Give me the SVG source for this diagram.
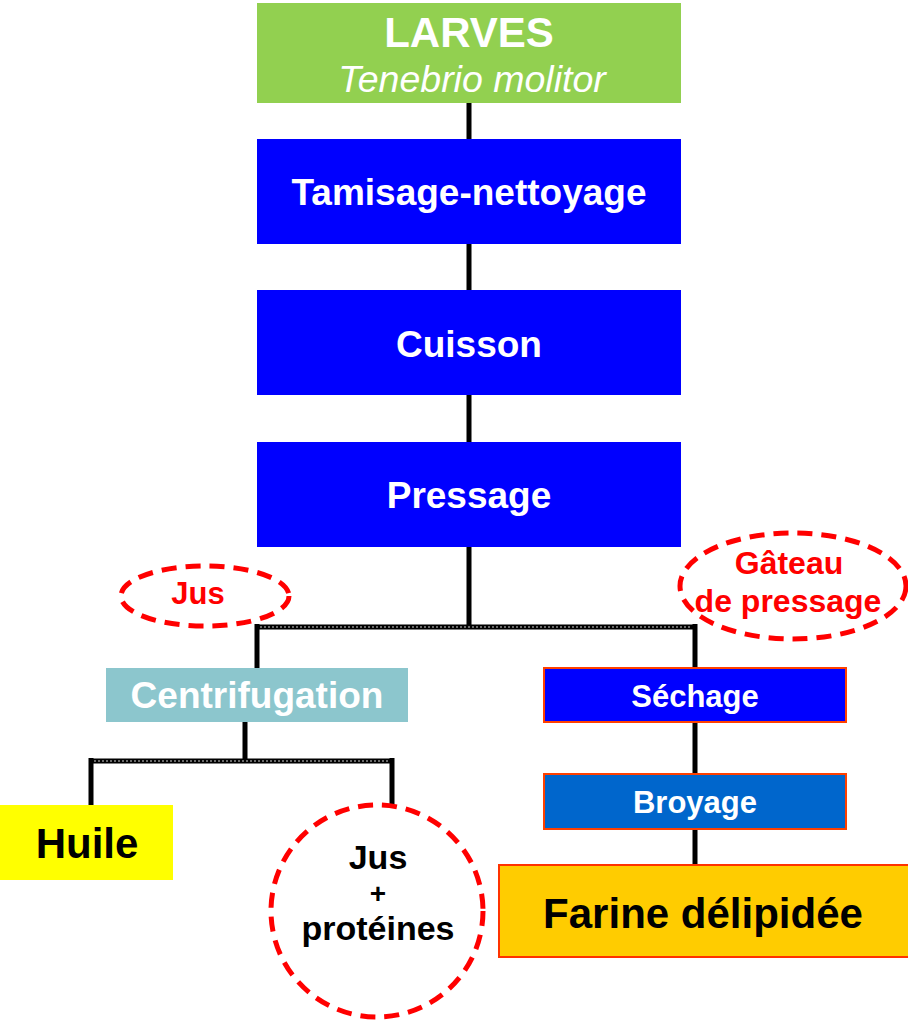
<svg xmlns="http://www.w3.org/2000/svg" width="908" height="1023" viewBox="0 0 908 1023">
  <style>
    text { font-family: "Liberation Sans", Arial, sans-serif; font-weight: bold; text-anchor: middle; }
    .it { font-weight: normal; font-style: italic; }
    .w { fill: #FFFFFF; }
    .k { fill: #000000; }
    .r { fill: #FF0000; }
    .step { fill: #0000FF; }
    .line { fill: none; stroke: #000000; stroke-width: 5; }
    .core { fill: none; stroke: #8C8C8C; stroke-width: 1.5; stroke-dasharray: 2 2; }
    .tag { fill: none; stroke: #FF0000; stroke-width: 5; stroke-dasharray: 15 9; }
    .edge { stroke: #FF4000; stroke-width: 2; }
  </style>
  <rect width="908" height="1023" fill="#FFFFFF"/>

  <g id="connectors">
    <path class="line" d="M469 103V139 M469 244V290 M469 395V442 M469 547V627 M257 627H695 M257 624V668 M695 624V668 M245 722V761 M91 761H393 M91 758V805 M392 758V805 M695 722V773 M695 829V866"/>
    <path class="core" d="M260 627H692 M94 761H390"/>
  </g>

  <g id="larves">
    <rect x="257" y="3" width="424" height="100" fill="#92D050"/>
    <text x="469" y="47" class="w" font-size="42">LARVES</text>
    <text x="472" y="92" class="w it" font-size="37.5">Tenebrio molitor</text>
  </g>

  <g id="tamisage">
    <rect x="257" y="139" width="424" height="105" class="step"/>
    <text x="469" y="205" class="w" font-size="37">Tamisage-nettoyage</text>
  </g>

  <g id="cuisson">
    <rect x="257" y="290" width="424" height="105" class="step"/>
    <text x="469" y="357" class="w" font-size="37">Cuisson</text>
  </g>

  <g id="pressage">
    <rect x="257" y="442" width="424" height="105" class="step"/>
    <text x="469" y="508" class="w" font-size="37">Pressage</text>
  </g>

  <g id="jus-label">
    <ellipse cx="205" cy="596" rx="84" ry="30" class="tag"/>
    <text x="198" y="604" class="r" font-size="31">Jus</text>
  </g>

  <g id="gateau-label">
    <ellipse cx="793" cy="586" rx="113" ry="53" class="tag"/>
    <text x="789" y="574" class="r" font-size="32">Gâteau</text>
    <text x="788" y="612" class="r" font-size="32">de pressage</text>
  </g>

  <g id="centrifugation">
    <rect x="106" y="668" width="302" height="54" fill="#8CC6CD"/>
    <text x="257" y="708" class="w" font-size="37">Centrifugation</text>
  </g>

  <g id="sechage">
    <rect x="544" y="668" width="302" height="54" class="step edge"/>
    <text x="695" y="707" class="w" font-size="31">Séchage</text>
  </g>

  <g id="broyage">
    <rect x="544" y="774" width="302" height="55" fill="#0066CC" class="edge"/>
    <text x="695" y="813" class="w" font-size="31">Broyage</text>
  </g>

  <g id="farine">
    <rect x="499" y="865" width="410" height="92" fill="#FFCC00" stroke="#FF3300" stroke-width="2"/>
    <text x="703" y="928" class="k" font-size="42">Farine délipidée</text>
  </g>

  <g id="huile">
    <rect x="0" y="805" width="173" height="75" fill="#FFFF00"/>
    <text x="87" y="858" class="k" font-size="42">Huile</text>
  </g>

  <g id="jus-proteines">
    <circle cx="377" cy="911" r="106" fill="#FFFFFF" class="tag"/>
    <text x="378" y="869" class="k" font-size="34">Jus</text>
    <text x="378" y="903" class="k" font-size="28">+</text>
    <text x="378" y="940" class="k" font-size="34">protéines</text>
  </g>
</svg>
